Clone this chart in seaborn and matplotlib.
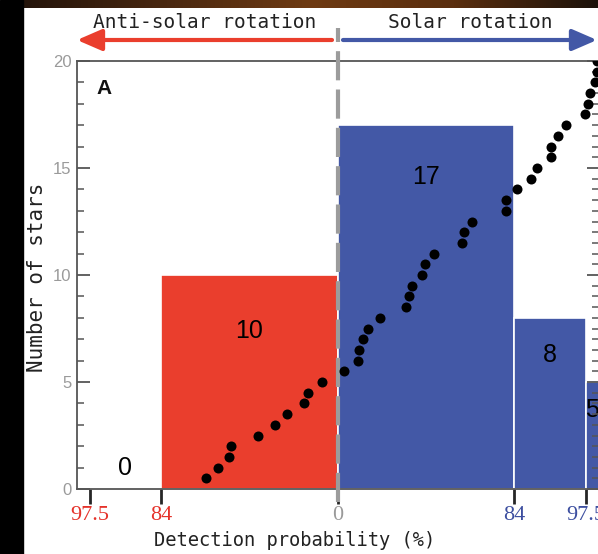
import numpy as np
import pandas as pd
import matplotlib
matplotlib.use("Agg")
import matplotlib.pyplot as plt
import matplotlib.ticker as mticker
import matplotlib.transforms as mtransforms
from matplotlib.patches import Rectangle, FancyArrowPatch
from matplotlib.colors import LinearSegmentedColormap
import seaborn as sns

# Histogram bins in signed detection probability (%); negative = anti-solar side
bin_left = [-97.5, -84.0, 0.0, 84.0, 97.5]
bin_right = [-84.0, 0.0, 84.0, 97.5, 100.0]
bin_counts = [0, 10, 17, 8, 5]
bin_side = ["anti", "anti", "solar", "solar", "solar"]

# Individual stars, sorted by signed detection probability, with cumulative rank
star_prob = [-62.5, -57.1, -51.9, -50.6, -38.0, -29.9, -24.2, -16.1, -14.0, -7.3,
             3.0, 9.7, 10.0, 12.1, 14.2, 20.2, 32.3, 33.9, 35.3, 40.2, 41.5, 45.9,
             58.9, 60.1, 64.1, 79.9, 79.9,
             84.6, 87.2, 88.2, 90.9, 90.9, 92.3, 93.7, 97.3,
             97.9, 98.3, 99.3, 99.6, 99.6]
star_rank = list(range(1, 41))

tick_values = [-97.5, -84.0, 0.0, 84.0, 97.5]
tick_labels = ["97.5", "84", "0", "84", "97.5"]
tick_side = ["anti", "anti", "zero", "solar", "solar"]

RED = "#EA3E2D"
BLUE = "#4358A6"
RED_TXT = "#E5322A"
BLUE_TXT = "#3D4FA0"
GREY = "#9a9a9a"
SPINE = "#555555"
side_color = {"anti": RED, "solar": BLUE}
tick_color = {"anti": RED_TXT, "solar": BLUE_TXT, "zero": GREY}

sns.set_theme(style="ticks")
plt.rcParams["font.family"] = ["DejaVu Sans"]
MONO = "DejaVu Sans Mono"

W, H = 598, 554
fig = plt.figure(figsize=(W / 100, H / 100), dpi=100)
fig.patch.set_facecolor("white")

# piecewise-linear probability axis: 0-84 stretched, 84-100 compressed
pct_pts = [-100.0, -97.5, -84.0, 0.0, 84.0, 97.5, 100.0]
pos_pts = [-1.477, -1.405, -1.0, 0.0, 1.0, 1.405, 1.48]


def fwd(v):
    return np.interp(np.asarray(v, dtype=float), pct_pts, pos_pts)


def inv(v):
    return np.interp(np.asarray(v, dtype=float), pos_pts, pct_pts)


ax = fig.add_axes([77 / W, (H - 489) / H, 522 / W, 428 / H])
ax.set_facecolor("white")
ax.set_xscale("function", functions=(fwd, inv))
ax.set_xlim(-100, 100)
ax.set_ylim(0, 20)

# histogram bars
widths = np.subtract(bin_right, bin_left)
ax.bar(bin_left, bin_counts, width=widths, align="edge",
       color=[side_color[s] for s in bin_side], edgecolor="white",
       linewidth=1.2, zorder=2)

# count labels inside the bars
label_drop = [-1.0, 2.6, 2.4, 1.75, 1.3]
for l, r, n, d in zip(bin_left, bin_right, bin_counts, label_drop):
    xc = float(inv((fwd(l) + fwd(r)) / 2))
    ax.text(xc, n - d, str(n), ha="center", va="center", fontsize=18,
            family="Liberation Sans", color="black", zorder=5)

# dashed divider at zero probability
blend = mtransforms.blended_transform_factory(ax.transData, ax.transAxes)
ax.plot([0, 0], [-0.03, 1.078], transform=blend, color="#9c9c9c", lw=3,
        dashes=(7, 2.2), clip_on=False, zorder=6, solid_capstyle="butt",
        dash_capstyle="butt")

# x ticks
ax.set_xticks(tick_values)
ax.set_xticklabels(tick_labels, family="Liberation Serif", fontsize=16)
ax.xaxis.set_minor_locator(mticker.NullLocator())
ax.tick_params(axis="x", which="major", direction="out", length=11, width=2,
               pad=1, bottom=True, top=False)
for t, lbl, s in zip(ax.xaxis.get_major_ticks(), ax.get_xticklabels(), tick_side):
    t.tick1line.set_color(tick_color[s])
    lbl.set_color(tick_color[s])

# left y axis: number of stars per bin
ax.set_yticks([0, 5, 10, 15, 20])
ax.yaxis.set_minor_locator(mticker.MultipleLocator(1))
ax.tick_params(axis="y", which="major", direction="in", length=9, width=1.3,
               color=SPINE, labelsize=12, labelcolor=GREY, pad=4,
               left=True, right=False)
ax.tick_params(axis="y", which="minor", direction="in", length=5, width=1.1,
               color=SPINE, left=True, right=False)
for lbl in ax.get_yticklabels():
    lbl.set_family("Liberation Sans")

for sp in ax.spines.values():
    sp.set_color(SPINE)
    sp.set_linewidth(1.3)

ax.set_ylabel("Number of stars", family=MONO, fontsize=15, color="#222222")
ax.yaxis.set_label_coords(-0.058, 0.495)
ax.set_xlabel("Detection probability (%)", family=MONO, fontsize=13.5,
              color="#222222")
ax.xaxis.set_label_coords(0.416, -0.098)

# right axis: cumulative star count
ax2 = ax.twinx()
ax2.set_ylim(0, 40)
sns.scatterplot(x=star_prob, y=star_rank, ax=ax2, color="black", s=52,
                linewidth=0, legend=False, zorder=7)
ax2.set_ylabel("")
ax2.set_xlabel("")
ax2.set_yticks([0, 10, 20, 30, 40])
ax2.yaxis.set_minor_locator(mticker.MultipleLocator(1))
ax2.tick_params(axis="y", which="major", direction="in", length=9, width=1.3,
                color=SPINE, labelright=False, right=True, left=False)
ax2.tick_params(axis="y", which="minor", direction="in", length=5, width=1.1,
                color=SPINE, right=True, left=False)
for name, sp in ax2.spines.items():
    sp.set_visible(name == "right")
    sp.set_color(SPINE)

# panel letter
fig.text(104 / W, 1 - 88 / H, "A", ha="center", va="center", fontsize=15,
         fontweight="bold", family="Liberation Sans", color="#111111")

# direction captions and arrows
fig.text(205 / W, 1 - 22 / H, "Anti-solar rotation", ha="center", va="center",
         family=MONO, fontsize=14, color="#222222")
fig.text(470 / W, 1 - 22 / H, "Solar rotation", ha="center", va="center",
         family=MONO, fontsize=14, color="#222222")
arrow_y = 1 - 40 / H
for x0, x1, c in [(332 / W, 77 / W, RED), (343 / W, 597 / W, BLUE)]:
    fig.add_artist(FancyArrowPatch(
        (x0, arrow_y), (x1, arrow_y), transform=fig.transFigure,
        arrowstyle="-|>,head_length=1.5,head_width=0.65", mutation_scale=10,
        lw=3, color=c, shrinkA=0, shrinkB=0))

# dark border strips around the panel
fig.add_artist(Rectangle((0, 0), 23 / W, 1, transform=fig.transFigure,
                         color="black", zorder=10))
band = fig.add_axes([23 / W, 1 - 8 / H, 1 - 23 / W, 8 / H])
band_cmap = LinearSegmentedColormap.from_list(
    "band", ["#24140a", "#4a2810", "#6e3a12", "#5a2e0e", "#1c120a"])
band.imshow(np.linspace(0, 1, 256)[None, :], aspect="auto", cmap=band_cmap)
band.axis("off")

fig.savefig("out.png", dpi=100, facecolor=fig.get_facecolor())
